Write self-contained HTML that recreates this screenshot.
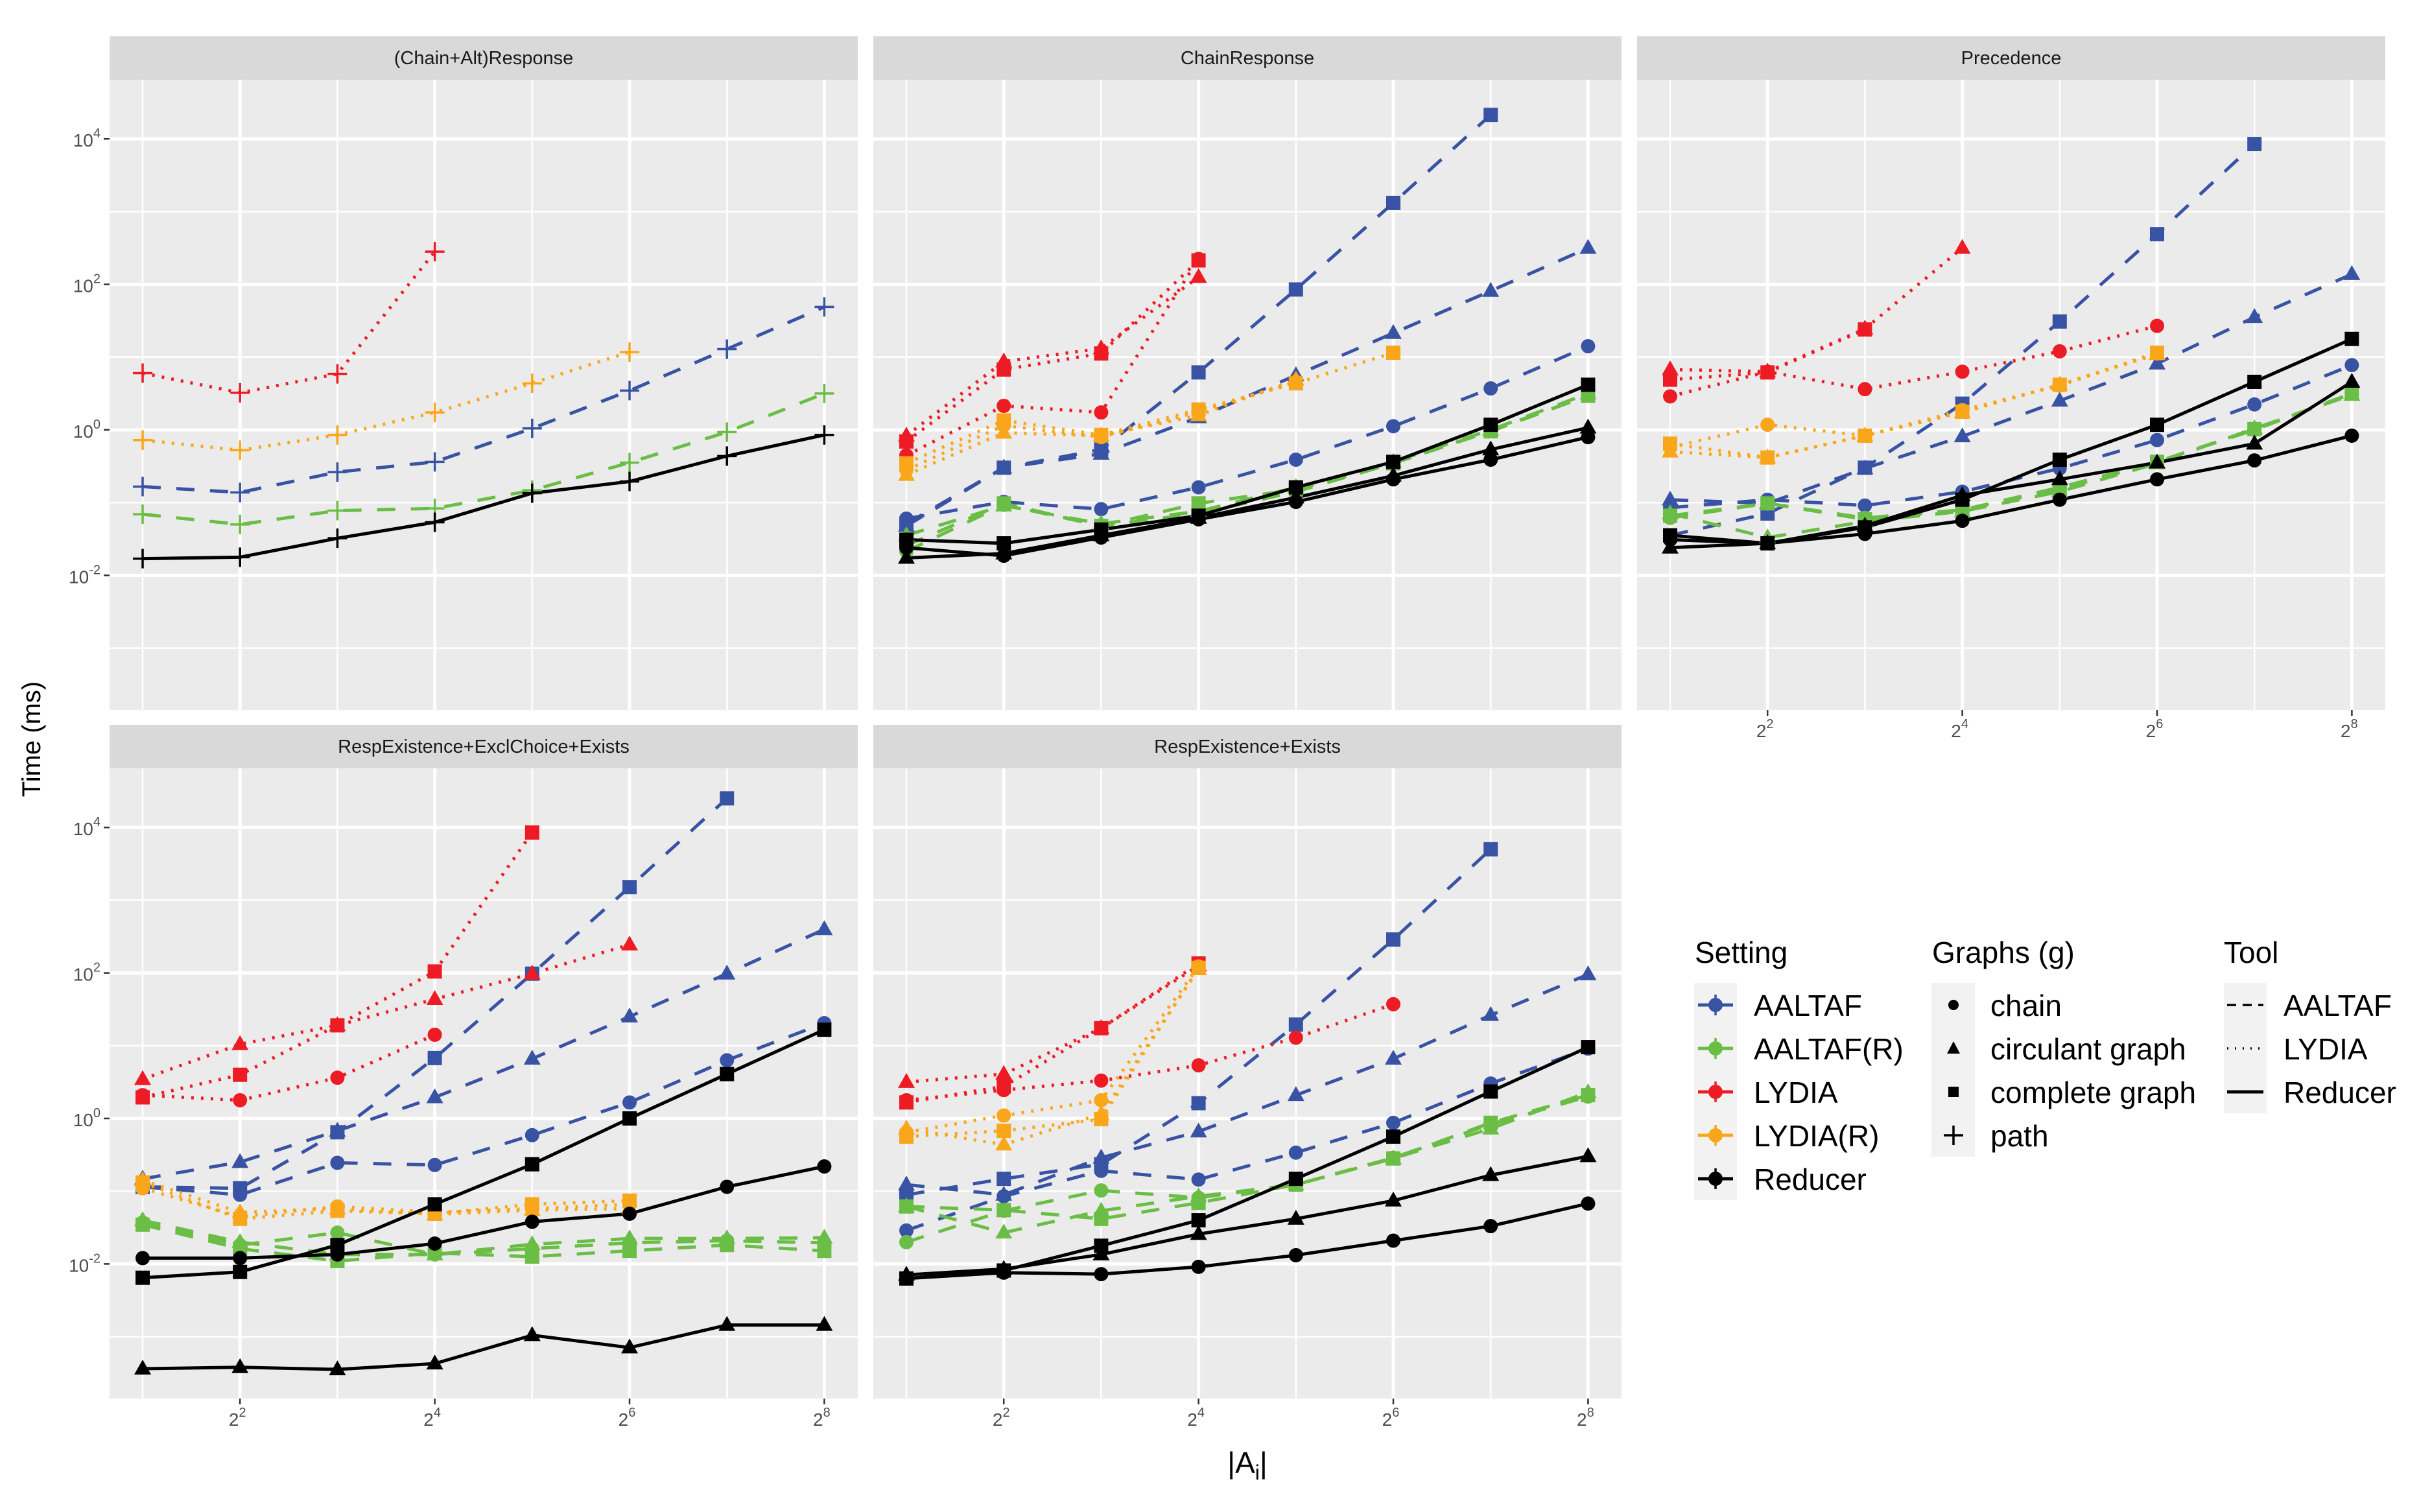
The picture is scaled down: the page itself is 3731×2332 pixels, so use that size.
<!DOCTYPE html>
<html><head><meta charset="utf-8"><style>
html,body{margin:0;padding:0;background:#fff}
svg{display:block}
text{font-family:"Liberation Sans",sans-serif}
</style></head><body>
<svg id="chart" width="3731" height="2332" viewBox="0 0 3731 2332" xmlns="http://www.w3.org/2000/svg">
<text x="0" y="0" transform="translate(62,1140) rotate(-90)" text-anchor="middle" font-size="40" fill="#000">Time (ms)</text>
<text x="1924" y="2272" text-anchor="middle" font-size="46" fill="#000">|A<tspan font-size="32" dy="10">i</tspan><tspan dy="-10">|</tspan></text>
<g>
 <text x="2614" y="1485" font-size="46" fill="#000">Setting</text>
 <text x="2980" y="1485" font-size="46" fill="#000">Graphs (g)</text>
 <text x="3430" y="1485" font-size="46" fill="#000">Tool</text>
 <g id="legendItems"></g>
</g>
</svg>
<script>
// ---- Data (values are log10 of time in ms); index = exponent 1..8 of |A_i| = 2^e ----
const exponents = [1,2,3,4,5,6,7,8];
const xTickExponents = [2,4,6,8];
const yTickExponents = [-2,0,2,4];
const settings = ["AALTAF","AALTAF(R)","LYDIA","LYDIA(R)","Reducer"];
const graphs = ["chain","circulant graph","complete graph","path"];
const tools = ["AALTAF","LYDIA","Reducer"];
const panelTitles = ["(Chain+Alt)Response","ChainResponse","Precedence","RespExistence+ExclChoice+Exists","RespExistence+Exists"];

// Panel 1: (Chain+Alt)Response
const p1_AALTAF_path   = [-0.78,-0.86,-0.58,-0.44,0.02,0.54,1.11,1.69];
const p1_AALTAFR_path  = [-1.16,-1.30,-1.11,-1.08,-0.83,-0.45,-0.03,0.50];
const p1_LYDIA_path    = [0.78,0.51,0.77,2.45,null,null,null,null];
const p1_LYDIAR_path   = [-0.14,-0.28,-0.07,0.24,0.64,1.07,null,null];
const p1_Reducer_path  = [-1.77,-1.75,-1.49,-1.27,-0.87,-0.71,-0.36,-0.07];

// Panel 2: ChainResponse
const p2_AALTAF_complete  = [-1.29,-0.52,-0.27,0.79,1.93,3.12,4.33,null];
const p2_AALTAF_circulant = [-1.32,-0.52,-0.33,0.17,0.75,1.33,1.91,2.50];
const p2_AALTAF_chain     = [-1.22,-0.99,-1.09,-0.79,-0.41,0.05,0.57,1.15];
const p2_AALTAFR_complete = [-1.59,-1.01,-1.32,-1.01,-0.82,-0.46,-0.02,0.47];
const p2_AALTAFR_circulant= [-1.45,-1.04,-1.29,-1.12,-0.79,-0.44,0.00,0.50];
const p2_AALTAFR_chain    = [-1.67,-1.03,-1.32,-1.15,-0.85,-0.46,-0.01,0.47];
const p2_LYDIA_complete   = [-0.16,0.83,1.05,2.33,null,null,null,null];
const p2_LYDIA_circulant  = [-0.08,0.94,1.12,2.10,null,null,null,null];
const p2_LYDIA_chain      = [-0.35,0.33,0.24,2.35,null,null,null,null];
const p2_LYDIAR_complete  = [-0.46,0.13,-0.07,0.28,0.64,1.06,null,null];
const p2_LYDIAR_circulant = [-0.62,-0.04,-0.08,0.20,0.69,null,null,null];
const p2_LYDIAR_chain     = [-0.55,0.06,-0.10,0.25,0.66,null,null,null];
const p2_Reducer_complete = [-1.51,-1.56,-1.37,-1.18,-0.79,-0.44,0.07,0.62];
const p2_Reducer_circulant= [-1.76,-1.70,-1.45,-1.21,-0.93,-0.63,-0.27,0.03];
const p2_Reducer_chain    = [-1.62,-1.73,-1.48,-1.23,-0.99,-0.68,-0.41,-0.10];

// Panel 3: Precedence
const p3_AALTAF_complete  = [-1.45,-1.15,-0.52,0.36,1.49,2.69,3.93,null];
const p3_AALTAF_circulant = [-0.96,-1.01,-0.53,-0.09,0.40,0.91,1.55,2.14];
const p3_AALTAF_chain     = [-1.07,-0.96,-1.04,-0.85,-0.53,-0.14,0.35,0.89];
const p3_AALTAFR_complete = [-1.18,-1.01,-1.23,-1.10,-0.82,-0.44,0.01,0.50];
const p3_AALTAFR_circulant= [-1.15,-1.48,-1.26,-1.12,-0.85,-0.46,0.02,0.48];
const p3_AALTAFR_chain    = [-1.21,-1.01,-1.21,-1.10,-0.79,-0.44,0.00,0.50];
const p3_LYDIA_complete   = [0.69,0.79,1.38,null,null,null,null,null];
const p3_LYDIA_circulant  = [0.83,0.80,1.39,2.50,null,null,null,null];
const p3_LYDIA_chain      = [0.46,0.80,0.56,0.80,1.08,1.43,null,null];
const p3_LYDIAR_complete  = [-0.19,-0.38,-0.08,0.25,0.62,1.06,null,null];
const p3_LYDIAR_circulant = [-0.30,-0.38,-0.08,0.24,0.62,1.04,null,null];
const p3_LYDIAR_chain     = [-0.24,0.07,-0.08,0.27,0.61,1.05,null,null];
const p3_Reducer_complete = [-1.45,-1.56,-1.34,-0.96,-0.41,0.07,0.66,1.25];
const p3_Reducer_circulant= [-1.62,-1.56,-1.32,-0.90,-0.68,-0.45,-0.19,0.66];
const p3_Reducer_chain    = [-1.51,-1.56,-1.43,-1.25,-0.96,-0.68,-0.42,-0.08];

// Panel 4: RespExistence+ExclChoice+Exists
const p4_AALTAF_complete  = [-0.94,-0.96,-0.19,0.83,1.99,3.18,4.40,null];
const p4_AALTAF_circulant = [-0.83,-0.60,-0.17,0.29,0.82,1.40,1.99,2.60];
const p4_AALTAF_chain     = [-0.94,-1.05,-0.61,-0.64,-0.23,0.22,0.80,1.31];
const p4_AALTAFR_complete = [-1.46,-1.79,-1.96,-1.85,-1.90,-1.82,-1.74,-1.82];
const p4_AALTAFR_circulant= [-1.40,-1.70,-1.87,-1.87,-1.73,-1.65,-1.65,-1.64];
const p4_AALTAFR_chain    = [-1.43,-1.74,-1.57,-1.87,-1.79,-1.71,-1.68,-1.71];
const p4_LYDIA_complete   = [0.29,0.60,1.28,2.02,3.93,null,null,null];
const p4_LYDIA_circulant  = [0.54,1.02,1.28,1.64,1.99,2.39,null,null];
const p4_LYDIA_chain      = [0.32,0.25,0.56,1.15,null,null,null,null];
const p4_LYDIAR_complete  = [-0.88,-1.38,-1.27,-1.31,-1.18,-1.13,null,null];
const p4_LYDIAR_circulant = [-0.85,-1.29,-1.24,-1.32,-1.26,-1.24,null,null];
const p4_LYDIAR_chain     = [-0.96,-1.35,-1.21,-1.29,-1.24,-1.18,null,null];
const p4_Reducer_complete = [-2.19,-2.11,-1.74,-1.18,-0.63,0.00,0.61,1.22];
const p4_Reducer_circulant= [-3.44,-3.42,-3.45,-3.37,-2.98,-3.15,-2.84,-2.84];
const p4_Reducer_chain    = [-1.92,-1.92,-1.87,-1.72,-1.42,-1.31,-0.94,-0.66];

// Panel 5: RespExistence+Exists
const p5_AALTAF_complete  = [-1.05,-0.83,-0.63,0.21,1.29,2.46,3.70,null];
const p5_AALTAF_circulant = [-0.91,-1.05,-0.54,-0.18,0.32,0.82,1.42,1.98];
const p5_AALTAF_chain     = [-1.54,-1.07,-0.72,-0.84,-0.47,-0.06,0.48,0.96];
const p5_AALTAFR_complete = [-1.21,-1.26,-1.38,-1.16,-0.91,-0.55,-0.06,0.32];
const p5_AALTAFR_circulant= [-1.21,-1.57,-1.27,-1.07,-0.91,-0.55,-0.14,0.36];
const p5_AALTAFR_chain    = [-1.70,-1.27,-0.99,-1.09,-0.91,-0.54,-0.08,0.30];
const p5_LYDIA_complete   = [0.22,0.44,1.24,2.13,null,null,null,null];
const p5_LYDIA_circulant  = [0.50,0.61,1.24,2.10,null,null,null,null];
const p5_LYDIA_chain      = [0.25,0.39,0.52,0.73,1.11,1.57,null,null];
const p5_LYDIAR_complete  = [-0.25,-0.17,-0.01,2.07,null,null,null,null];
const p5_LYDIAR_circulant = [-0.14,-0.36,0.06,2.05,null,null,null,null];
const p5_LYDIAR_chain     = [-0.19,0.04,0.25,2.09,null,null,null,null];
const p5_Reducer_complete = [-2.20,-2.09,-1.75,-1.40,-0.83,-0.25,0.37,0.98];
const p5_Reducer_circulant= [-2.15,-2.07,-1.87,-1.59,-1.38,-1.13,-0.78,-0.52];
const p5_Reducer_chain    = [-2.20,-2.12,-2.14,-2.04,-1.88,-1.68,-1.48,-1.17];

const panelSeries = [
 [["AALTAF","path",p1_AALTAF_path],["AALTAF(R)","path",p1_AALTAFR_path],["LYDIA","path",p1_LYDIA_path],["LYDIA(R)","path",p1_LYDIAR_path],["Reducer","path",p1_Reducer_path]],
 [["AALTAF","complete graph",p2_AALTAF_complete],["AALTAF","circulant graph",p2_AALTAF_circulant],["AALTAF","chain",p2_AALTAF_chain],
  ["AALTAF(R)","complete graph",p2_AALTAFR_complete],["AALTAF(R)","circulant graph",p2_AALTAFR_circulant],["AALTAF(R)","chain",p2_AALTAFR_chain],
  ["LYDIA","complete graph",p2_LYDIA_complete],["LYDIA","circulant graph",p2_LYDIA_circulant],["LYDIA","chain",p2_LYDIA_chain],
  ["LYDIA(R)","complete graph",p2_LYDIAR_complete],["LYDIA(R)","circulant graph",p2_LYDIAR_circulant],["LYDIA(R)","chain",p2_LYDIAR_chain],
  ["Reducer","complete graph",p2_Reducer_complete],["Reducer","circulant graph",p2_Reducer_circulant],["Reducer","chain",p2_Reducer_chain]],
 [["AALTAF","complete graph",p3_AALTAF_complete],["AALTAF","circulant graph",p3_AALTAF_circulant],["AALTAF","chain",p3_AALTAF_chain],
  ["AALTAF(R)","complete graph",p3_AALTAFR_complete],["AALTAF(R)","circulant graph",p3_AALTAFR_circulant],["AALTAF(R)","chain",p3_AALTAFR_chain],
  ["LYDIA","complete graph",p3_LYDIA_complete],["LYDIA","circulant graph",p3_LYDIA_circulant],["LYDIA","chain",p3_LYDIA_chain],
  ["LYDIA(R)","complete graph",p3_LYDIAR_complete],["LYDIA(R)","circulant graph",p3_LYDIAR_circulant],["LYDIA(R)","chain",p3_LYDIAR_chain],
  ["Reducer","complete graph",p3_Reducer_complete],["Reducer","circulant graph",p3_Reducer_circulant],["Reducer","chain",p3_Reducer_chain]],
 [["AALTAF","complete graph",p4_AALTAF_complete],["AALTAF","circulant graph",p4_AALTAF_circulant],["AALTAF","chain",p4_AALTAF_chain],
  ["AALTAF(R)","complete graph",p4_AALTAFR_complete],["AALTAF(R)","circulant graph",p4_AALTAFR_circulant],["AALTAF(R)","chain",p4_AALTAFR_chain],
  ["LYDIA","complete graph",p4_LYDIA_complete],["LYDIA","circulant graph",p4_LYDIA_circulant],["LYDIA","chain",p4_LYDIA_chain],
  ["LYDIA(R)","complete graph",p4_LYDIAR_complete],["LYDIA(R)","circulant graph",p4_LYDIAR_circulant],["LYDIA(R)","chain",p4_LYDIAR_chain],
  ["Reducer","complete graph",p4_Reducer_complete],["Reducer","circulant graph",p4_Reducer_circulant],["Reducer","chain",p4_Reducer_chain]],
 [["AALTAF","complete graph",p5_AALTAF_complete],["AALTAF","circulant graph",p5_AALTAF_circulant],["AALTAF","chain",p5_AALTAF_chain],
  ["AALTAF(R)","complete graph",p5_AALTAFR_complete],["AALTAF(R)","circulant graph",p5_AALTAFR_circulant],["AALTAF(R)","chain",p5_AALTAFR_chain],
  ["LYDIA","complete graph",p5_LYDIA_complete],["LYDIA","circulant graph",p5_LYDIA_circulant],["LYDIA","chain",p5_LYDIA_chain],
  ["LYDIA(R)","complete graph",p5_LYDIAR_complete],["LYDIA(R)","circulant graph",p5_LYDIAR_circulant],["LYDIA(R)","chain",p5_LYDIAR_chain],
  ["Reducer","complete graph",p5_Reducer_complete],["Reducer","circulant graph",p5_Reducer_circulant],["Reducer","chain",p5_Reducer_chain]]
];

// ---- Styling / layout ----
const colorOf = {"AALTAF":"#3953A4","AALTAF(R)":"#6ABD45","LYDIA":"#ED1C24","LYDIA(R)":"#FAA61A","Reducer":"#000000"};
const dashOf = {"AALTAF":"28 24","AALTAF(R)":"28 24","LYDIA":"4 11","LYDIA(R)":"4 11","Reducer":null};
const colLeft = [169,1347,2525];
const stripTop = [56,1118];
const plotTop = [123,1185];
const PW = 1154, PH = 972, SH = 67;
const panelPos = [[0,0],[0,1],[0,2],[1,0],[1,1]];
const NS = "http://www.w3.org/2000/svg";
const svg = document.getElementById('chart');

function xScale(col,e){ return colLeft[col] + 51 + (e-1)*150.2; }
function yScale(row,lv){ return plotTop[row] + 540 - 112.2*lv; }
function mk(tag, attrs, parent){
  const el = document.createElementNS(NS, tag);
  for (const k in attrs) el.setAttribute(k, attrs[k]);
  (parent||svg).appendChild(el);
  return el;
}
function marker(g, shape, cx, cy, color){
  let el;
  if (shape==="chain") el = mk('circle',{cx:cx,cy:cy,r:11,fill:color},g);
  else if (shape==="complete graph") el = mk('rect',{x:cx-11,y:cy-11,width:22,height:22,fill:color},g);
  else if (shape==="circulant graph") el = mk('polygon',{points:`${cx},${cy-14} ${cx+13},${cy+9} ${cx-13},${cy+9}`,fill:color},g);
  else el = mk('path',{d:`M${cx-15},${cy}H${cx+15}M${cx},${cy-15}V${cy+15}`,stroke:color,'stroke-width':3.5,fill:'none'},g);
  return el;
}

panelPos.forEach((pp,pi)=>{
  const row = pp[0], col = pp[1];
  const L = colLeft[col];
  const g = mk('g',{});
  
  
  const strip = mk('rect',{x:L,y:stripTop[row],width:PW,height:SH,fill:'#D9D9D9'},g);
  
  
  const st = mk('text',{x:L+PW/2,y:stripTop[row]+43,'text-anchor':'middle','font-size':29,fill:'#1A1A1A'},g);
  st.textContent = panelTitles[pi];
  
  
  const bg = mk('rect',{x:L,y:plotTop[row],width:PW,height:PH,fill:'#EBEBEB'},g);
  
  
  // y gridlines: minor at odd exponents, major at even
  for (let k=-3;k<=4;k++){
    const y = yScale(row,k);
    if (y<plotTop[row]||y>plotTop[row]+PH) continue;
    const major = (k%2===0);
    const gl = mk('line',{x1:L,x2:L+PW,y1:y,y2:y,stroke:'#fff','stroke-width':major?5:2.5},g);
    
    
  }
  exponents.forEach(e=>{
    const x = xScale(col,e);
    const gl = mk('line',{x1:x,x2:x,y1:plotTop[row],y2:plotTop[row]+PH,stroke:'#fff','stroke-width':(e%2===0)?5:2.5},g);
    
    
  });
  // y axis labels on left column
  if (col===0){
    yTickExponents.forEach(k=>{
      const y = yScale(row,k);
      mk('line',{x1:L-9,x2:L,y1:y,y2:y,stroke:'#333','stroke-width':2.5},g);
      const t = mk('text',{x:L-14,y:y+12,'text-anchor':'end','font-size':28,fill:'#4D4D4D'},g);
      t.innerHTML = '10<tspan dy="-14" font-size="20">'+k+'</tspan>';
      
      
    });
  }
  // x axis labels on bottom-most panel of each column
  if (row===1 || col===2){
    xTickExponents.forEach(e=>{
      const x = xScale(col,e);
      const yb = plotTop[row]+PH;
      mk('line',{x1:x,x2:x,y1:yb,y2:yb+9,stroke:'#333','stroke-width':2.5},g);
      const t = mk('text',{x:x-4,y:yb+42,'text-anchor':'middle','font-size':28,fill:'#4D4D4D'},g);
      t.innerHTML = '2<tspan dy="-14" font-size="20">'+e+'</tspan>';
      
      
    });
  }
  // series lines
  panelSeries[pi].forEach(s=>{
    const setting = s[0], vals = s[2];
    const pts = [];
    vals.forEach((v,i)=>{ if (v!==null) pts.push(xScale(col,exponents[i])+','+yScale(row,v)); });
    const attrs = {points:pts.join(' '),fill:'none',stroke:colorOf[setting],'stroke-width':5,'stroke-linejoin':'round'};
    if (dashOf[setting]) attrs['stroke-dasharray'] = dashOf[setting];
    const pl = mk('polyline',attrs,g);
    
    
  });
  // series points
  panelSeries[pi].forEach(s=>{
    const setting = s[0], shape = s[1], vals = s[2];
    vals.forEach((v,i)=>{
      if (v===null) return;
      const m = marker(g, shape, xScale(col,exponents[i]), yScale(row,v), colorOf[setting]);
      
      
    });
  });
});

// ---- Legend ----
const lg = document.getElementById('legendItems');
const rowY0 = 1550, rowStep = 67;
mk('rect',{x:2613,y:1516,width:66,height:335,fill:'#F2F2F2'},lg);
mk('rect',{x:2979,y:1516,width:67,height:268,fill:'#F2F2F2'},lg);
mk('rect',{x:3430,y:1516,width:66,height:201,fill:'#F2F2F2'},lg);
settings.forEach((s,i)=>{
  const y = rowY0 + i*rowStep;
  const c = colorOf[s];
  const k = mk('g',{},lg);
  
  
  mk('line',{x1:2619,x2:2673,y1:y,y2:y,stroke:c,'stroke-width':5},k);
  mk('circle',{cx:2646,cy:y,r:11,fill:c},k);
  mk('path',{d:`M${2646},${y-16}V${y+16}`,stroke:c,'stroke-width':3.5},k);
  const t = mk('text',{x:2705,y:y+17,'font-size':46,fill:'#000'},k);
  t.textContent = s;
});
graphs.forEach((gname,i)=>{
  const y = rowY0 + i*rowStep;
  const k = mk('g',{},lg);
  
  
  if (gname==="path") marker(k,gname,3013,y,'#000');
  else if (gname==="chain") mk('circle',{cx:3013,cy:y,r:8,fill:'#000'},k);
  else if (gname==="complete graph") mk('rect',{x:3005,y:y-8,width:16,height:16,fill:'#000'},k);
  else mk('polygon',{points:`3013,${y-11} 3023,${y+8} 3003,${y+8}`,fill:'#000'},k);
  const t = mk('text',{x:3070,y:y+17,'font-size':46,fill:'#000'},k);
  t.textContent = gname;
});
tools.forEach((tn,i)=>{
  const y = rowY0 + i*rowStep;
  const k = mk('g',{},lg);
  
  
  const attrs = {x1:3435,x2:3491,y1:y,y2:y,stroke:'#000','stroke-width':i===2?5:3.5};
  if (i===0) attrs['stroke-dasharray'] = '14 10';
  if (i===1) attrs['stroke-dasharray'] = '2 10';
  mk('line',attrs,k);
  const t = mk('text',{x:3522,y:y+17,'font-size':46,fill:'#000'},k);
  t.textContent = tn;
});
</script>
</body></html>
